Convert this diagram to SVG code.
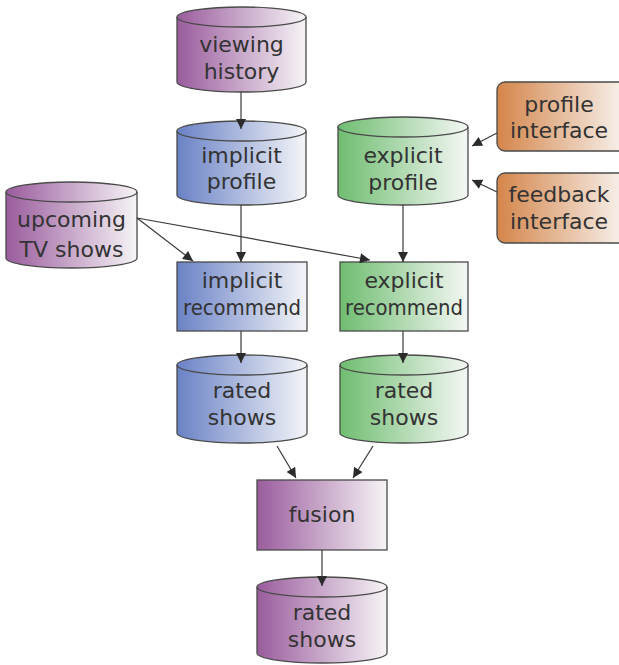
<svg xmlns="http://www.w3.org/2000/svg" width="619" height="665" viewBox="0 0 619 665">
  <defs>
    <linearGradient id="gPurple" x1="0" y1="0" x2="1" y2="0">
      <stop offset="0" stop-color="#9a5c9d"/>
      <stop offset="1" stop-color="#f6f4f6"/>
    </linearGradient>
    <linearGradient id="gBlue" x1="0" y1="0" x2="1" y2="0">
      <stop offset="0" stop-color="#6a82c6"/>
      <stop offset="1" stop-color="#f4f5f8"/>
    </linearGradient>
    <linearGradient id="gGreen" x1="0" y1="0" x2="1" y2="0">
      <stop offset="0" stop-color="#6fbd70"/>
      <stop offset="1" stop-color="#f4f7f4"/>
    </linearGradient>
    <linearGradient id="gOrange" x1="0" y1="0" x2="1" y2="0">
      <stop offset="0" stop-color="#d4854a"/>
      <stop offset="1" stop-color="#f8f4f0"/>
    </linearGradient>
    <marker id="arrow" viewBox="0 0 10 10" refX="10" refY="5" markerWidth="11" markerHeight="10" markerUnits="userSpaceOnUse" orient="auto">
      <path d="M0,0 L10,5 L0,10 Z" fill="#2b2b2b"/>
    </marker>
  </defs>
  <style>
    .shape { stroke: #4a4a4a; stroke-width: 1.3; }
    .rim { fill: none; stroke: #4a4a4a; stroke-width: 1.3; }
    .label { font-family: "DejaVu Sans", Verdana, sans-serif; font-size: 22px; fill: #333333; text-anchor: middle; }
    .edge { fill: none; stroke: #3a3a3a; stroke-width: 1.2; marker-end: url(#arrow); }
  </style>

  <g id="viewing-history">
    <path class="shape" fill="url(#gPurple)" d="M177,17 A64.5,10 0 0 1 306,17 L306,82 A64.5,10 0 0 1 177,82 Z"/>
    <path class="rim" d="M177,17 A64.5,10 0 0 0 306,17"/>
    <text class="label" x="241.5" y="52">viewing</text>
    <text class="label" x="241.5" y="79">history</text>
  </g>

  <g id="implicit-profile">
    <path class="shape" fill="url(#gBlue)" d="M177,131 A64.5,10 0 0 1 306,131 L306,195 A64.5,10 0 0 1 177,195 Z"/>
    <path class="rim" d="M177,131 A64.5,10 0 0 0 306,131"/>
    <text class="label" x="241.5" y="163">implicit</text>
    <text class="label" x="241.5" y="189">profile</text>
  </g>

  <g id="explicit-profile">
    <path class="shape" fill="url(#gGreen)" d="M338,127 A65,10 0 0 1 468,127 L468,195 A65,10 0 0 1 338,195 Z"/>
    <path class="rim" d="M338,127 A65,10 0 0 0 468,127"/>
    <text class="label" x="403" y="163">explicit</text>
    <text class="label" x="403" y="190">profile</text>
  </g>

  <g id="profile-interface">
    <rect class="shape" fill="url(#gOrange)" x="497" y="82" width="130" height="69" rx="8"/>
    <text class="label" x="559" y="112">profile</text>
    <text class="label" x="559" y="138">interface</text>
  </g>

  <g id="feedback-interface">
    <rect class="shape" fill="url(#gOrange)" x="497" y="173" width="130" height="70" rx="8"/>
    <text class="label" x="559" y="202">feedback</text>
    <text class="label" x="559" y="229">interface</text>
  </g>

  <g id="upcoming-tv-shows">
    <path class="shape" fill="url(#gPurple)" d="M6,192 A65.5,10 0 0 1 137,192 L137,258 A65.5,10 0 0 1 6,258 Z"/>
    <path class="rim" d="M6,192 A65.5,10 0 0 0 137,192"/>
    <text class="label" x="71.5" y="227">upcoming</text>
    <text class="label" x="71.5" y="257">TV shows</text>
  </g>

  <g id="implicit-recommend">
    <rect class="shape" fill="url(#gBlue)" x="177" y="262" width="130" height="69"/>
    <text class="label" x="242" y="288">implicit</text>
    <text class="label" x="242" y="315" textLength="118" lengthAdjust="spacingAndGlyphs">recommend</text>
  </g>

  <g id="explicit-recommend">
    <rect class="shape" fill="url(#gGreen)" x="340" y="262" width="128" height="69"/>
    <text class="label" x="404" y="288">explicit</text>
    <text class="label" x="404" y="315" textLength="118" lengthAdjust="spacingAndGlyphs">recommend</text>
  </g>

  <g id="implicit-rated-shows">
    <path class="shape" fill="url(#gBlue)" d="M177,365 A65,10 0 0 1 307,365 L307,433 A65,10 0 0 1 177,433 Z"/>
    <path class="rim" d="M177,365 A65,10 0 0 0 307,365"/>
    <text class="label" x="242" y="398">rated</text>
    <text class="label" x="242" y="425">shows</text>
  </g>

  <g id="explicit-rated-shows">
    <path class="shape" fill="url(#gGreen)" d="M340,365 A64,10 0 0 1 468,365 L468,433 A64,10 0 0 1 340,433 Z"/>
    <path class="rim" d="M340,365 A64,10 0 0 0 468,365"/>
    <text class="label" x="404" y="398">rated</text>
    <text class="label" x="404" y="425">shows</text>
  </g>

  <g id="fusion">
    <rect class="shape" fill="url(#gPurple)" x="257" y="480" width="130" height="70"/>
    <text class="label" x="322" y="522">fusion</text>
  </g>

  <g id="fused-rated-shows">
    <path class="shape" fill="url(#gPurple)" d="M257,587 A65,10 0 0 1 387,587 L387,653 A65,10 0 0 1 257,653 Z"/>
    <path class="rim" d="M257,587 A65,10 0 0 0 387,587"/>
    <text class="label" x="322" y="620">rated</text>
    <text class="label" x="322" y="647">shows</text>
  </g>

  <!-- connectors drawn last so arrowheads sit on top of the cylinder lids -->
  <g id="connectors">
    <line class="edge" x1="241" y1="92" x2="241" y2="129"/>
    <line class="edge" x1="241" y1="205" x2="241" y2="262"/>
    <line class="edge" x1="403" y1="205" x2="403" y2="262"/>
    <line class="edge" x1="137" y1="218" x2="193" y2="261"/>
    <line class="edge" x1="137" y1="218" x2="370" y2="260"/>
    <line class="edge" x1="241" y1="331" x2="241" y2="363"/>
    <line class="edge" x1="403" y1="331" x2="403" y2="363"/>
    <line class="edge" x1="277" y1="446" x2="296" y2="478"/>
    <line class="edge" x1="373" y1="446" x2="353" y2="478"/>
    <line class="edge" x1="322" y1="550" x2="322" y2="586"/>
    <line class="edge" x1="497" y1="133" x2="472" y2="146"/>
    <line class="edge" x1="497" y1="192" x2="472" y2="180"/>
  </g>
</svg>
